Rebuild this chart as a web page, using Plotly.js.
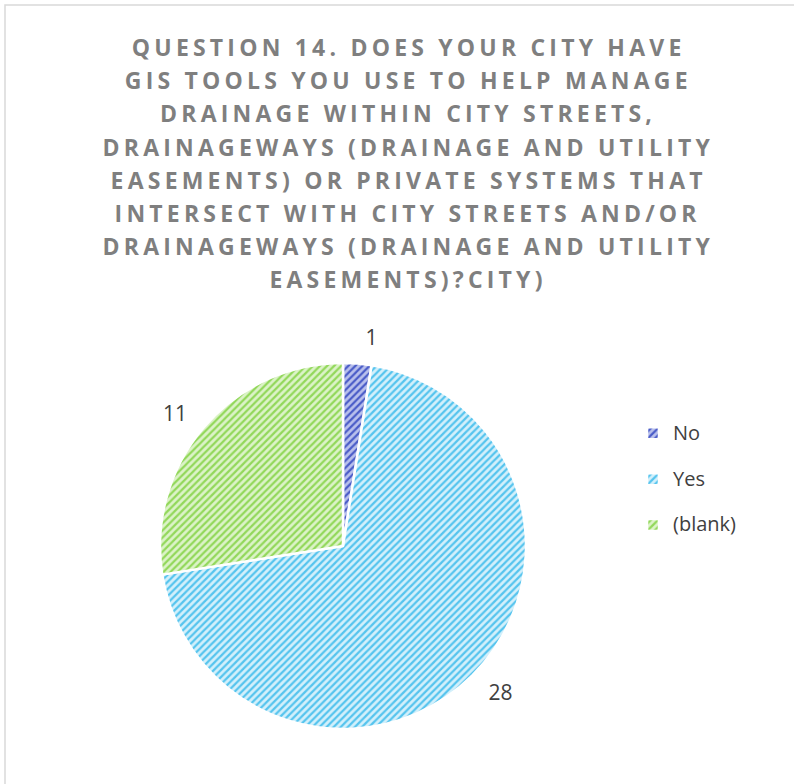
<!DOCTYPE html>
<html>
<head>
<meta charset="utf-8">
<script src="https://cdn.plot.ly/plotly-3.0.1.min.js"></script>
<style>
  html, body { margin: 0; padding: 0; background: #ffffff; }
  #chart { width: 794px; height: 784px; }
  .annotation-text.ttl { letter-spacing: 4.2px; }
</style>
</head>
<body>
<div id="chart"></div>
<script>
// ---- data ----
const categories = ['No', 'Yes', '(blank)'];
const counts = [1, 28, 11];
const titleLines = [
  'QUESTION 14. DOES YOUR CITY HAVE',
  'GIS TOOLS YOU USE TO HELP MANAGE',
  'DRAINAGE WITHIN CITY STREETS,',
  'DRAINAGEWAYS (DRAINAGE AND UTILITY',
  'EASEMENTS) OR PRIVATE SYSTEMS THAT',
  'INTERSECT WITH CITY STREETS AND/OR',
  'DRAINAGEWAYS (DRAINAGE AND UTILITY',
  'EASEMENTS)?CITY)'
];

// ---- styles ----
const fgColors = ['#4a5cc8', '#55c4ee', '#92d85a'];
const bgColors = ['#b9c0ec', '#d3f0fb', '#dcf3c8'];
const W = 794, H = 784;
const cx = 343, cy = 546, R = 183, RL = 196;

function dom(r) {
  return {
    x: [(cx - r) / W, (cx + r) / W],
    y: [(H - cy - r) / H, (H - cy + r) / H]
  };
}

const pie = {
  type: 'pie',
  labels: categories.map(c => '<span style="font-size:20px">' + c + '</span><br>\u00a0'),
  values: counts,
  sort: false,
  direction: 'clockwise',
  rotation: 0,
  domain: dom(R),
  textinfo: 'none',
  hoverinfo: 'value',
  marker: {
    colors: fgColors,
    line: { color: '#ffffff', width: 2.5 },
    pattern: {
      shape: '/',
      fillmode: 'replace',
      fgcolor: fgColors,
      bgcolor: bgColors,
      size: 5,
      solidity: 0.45
    }
  },
  showlegend: true
};

const labelPie = {
  type: 'pie',
  labels: categories,
  values: counts,
  sort: false,
  direction: 'clockwise',
  rotation: 0,
  domain: dom(RL),
  textinfo: 'value',
  textposition: 'outside',
  outsidetextfont: { family: 'Open Sans, sans-serif', size: 21, color: '#404040' },
  marker: { colors: ['rgba(0,0,0,0)', 'rgba(0,0,0,0)', 'rgba(0,0,0,0)'], line: { width: 0 } },
  hoverinfo: 'skip',
  showlegend: false
};

const annotations = titleLines.map((t, i) => ({
  text: t,
  xref: 'paper', yref: 'paper',
  x: 408 / W, y: 1 - (47 + i * 33.2) / H,
  xanchor: 'center', yanchor: 'middle',
  showarrow: false,
  font: { family: 'Open Sans, sans-serif', size: 23, color: '#7f7f7f', weight: 700 },
  captureevents: false
}));

const layout = {
  width: W, height: H,
  margin: { l: 0, r: 0, t: 0, b: 0 },
  paper_bgcolor: '#ffffff',
  plot_bgcolor: '#ffffff',
  showlegend: true,
  legend: {
    x: 633 / W, y: 1 - 416 / H,
    xanchor: 'left', yanchor: 'top',
    valign: 'top',
    font: { family: 'Open Sans, sans-serif', size: 16.5, color: '#404040' },
    bgcolor: 'rgba(0,0,0,0)'
  },
  annotations: annotations,
  shapes: [{
    type: 'rect', xref: 'paper', yref: 'paper',
    x0: 5 / W, x1: 1.05, y0: -0.05, y1: 1 - 5 / H,
    line: { color: '#d9d9d9', width: 1.5 }, fillcolor: 'rgba(0,0,0,0)', layer: 'below'
  }]
};

Plotly.newPlot('chart', [pie, labelPie], layout, { displayModeBar: false, staticPlot: true }).then(() => {
  document.querySelectorAll('.annotation-text').forEach(el => el.classList.add('ttl'));
});
</script>
</body>
</html>
